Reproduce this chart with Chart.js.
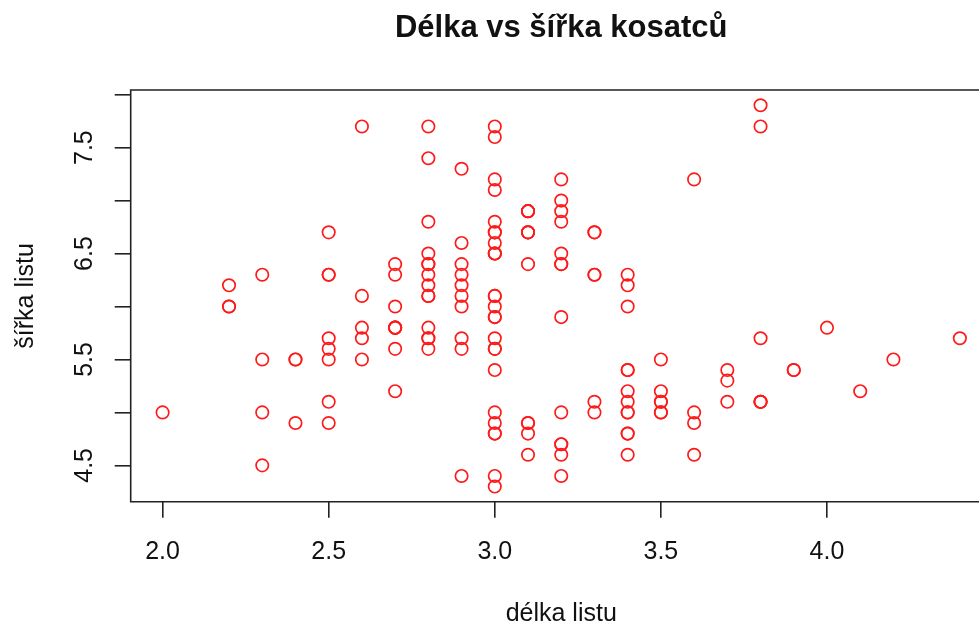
<!DOCTYPE html>
<html>
<head>
<meta charset="utf-8">
<script src="https://cdn.jsdelivr.net/npm/chart.js@4/dist/chart.umd.min.js"></script>
<style>
  html, body { margin: 0; padding: 0; background: #ffffff; }
  #wrap { width: 979px; height: 626px; }
</style>
</head>
<body>
<div id="wrap"><canvas id="c" width="979" height="626"></canvas></div>
<script>
// Iris measurements: sepal width (x) and sepal length (y)
const sepalWidth = [
  3.5,3.0,3.2,3.1,3.6,3.9,3.4,3.4,2.9,3.1,3.7,3.4,3.0,3.0,4.0,4.4,3.9,3.5,3.8,3.8,
  3.4,3.7,3.6,3.3,3.4,3.0,3.4,3.5,3.4,3.2,3.1,3.4,4.1,4.2,3.1,3.2,3.5,3.6,3.0,3.4,
  3.5,2.3,3.2,3.5,3.8,3.0,3.8,3.2,3.7,3.3,
  3.2,3.2,3.1,2.3,2.8,2.8,3.3,2.4,2.9,2.7,2.0,3.0,2.2,2.9,2.9,3.1,3.0,2.7,2.2,2.5,
  3.2,2.8,2.5,2.8,2.9,3.0,2.8,3.0,2.9,2.6,2.4,2.4,2.7,2.7,3.0,3.4,3.1,2.3,3.0,2.5,
  2.6,3.0,2.6,2.3,2.7,3.0,2.9,2.9,2.5,2.8,
  3.3,2.7,3.0,2.9,3.0,3.0,2.5,2.9,2.5,3.6,3.2,2.7,3.0,2.5,2.8,3.2,3.0,3.8,2.6,2.2,
  3.2,2.8,2.8,2.7,3.3,3.2,2.8,3.0,2.8,3.0,2.8,3.8,2.8,2.8,2.6,3.0,3.4,3.1,3.0,3.1,
  3.1,3.1,2.7,3.2,3.3,3.0,2.5,3.0,3.4,3.0
];
const sepalLength = [
  5.1,4.9,4.7,4.6,5.0,5.4,4.6,5.0,4.4,4.9,5.4,4.8,4.8,4.3,5.8,5.7,5.4,5.1,5.7,5.1,
  5.4,5.1,4.6,5.1,4.8,5.0,5.0,5.2,5.2,4.7,4.8,5.4,5.2,5.5,4.9,5.0,5.5,4.9,4.4,5.1,
  5.0,4.5,4.4,5.0,5.1,4.8,5.1,4.6,5.3,5.0,
  7.0,6.4,6.9,5.5,6.5,5.7,6.3,4.9,6.6,5.2,5.0,5.9,6.0,6.1,5.6,6.7,5.6,5.8,6.2,5.6,
  5.9,6.1,6.3,6.1,6.4,6.6,6.8,6.7,6.0,5.7,5.5,5.5,5.8,6.0,5.4,6.0,6.7,6.3,5.6,5.5,
  5.5,6.1,5.8,5.0,5.6,5.7,5.7,6.2,5.1,5.7,
  6.3,5.8,7.1,6.3,6.5,7.6,4.9,7.3,6.7,7.2,6.5,6.4,6.8,5.7,5.8,6.4,6.5,7.7,7.7,6.0,
  6.9,5.6,7.7,6.3,6.7,7.2,6.2,6.1,6.4,7.2,7.4,7.9,6.4,6.3,6.1,7.7,6.3,6.4,6.0,6.9,
  6.7,6.9,5.8,6.8,6.7,6.7,6.3,6.5,6.2,5.9
];

// Axis tick labels
const xTickValues = [2.0, 2.5, 3.0, 3.5, 4.0];
const xTickLabels = ['2.0', '2.5', '3.0', '3.5', '4.0'];
const yTickValues = [4.5, 5.5, 6.5, 7.5];
const yTickLabels = ['4.5', '5.5', '6.5', '7.5'];

const chartTitle = 'Délka vs šířka kosatců';
const xTitle = 'délka listu';
const yTitle = 'šířka listu';

const points = sepalWidth.map((w, i) => ({ x: w, y: sepalLength[i] }));

const FONT = '"Liberation Sans", Arial, Helvetica, sans-serif';
const INK = '#111111';

// Frame (left, top, bottom) plus all text, placed through the scales
const framePlugin = {
  id: 'frameAndText',
  afterDraw(chart) {
    const { ctx, chartArea: a, scales: { x, y } } = chart;
    ctx.save();
    ctx.strokeStyle = '#222222';
    ctx.lineWidth = 1.6;
    ctx.beginPath();
    ctx.moveTo(a.right + 2, a.top);
    ctx.lineTo(a.left, a.top);
    ctx.lineTo(a.left, a.bottom);
    ctx.lineTo(a.right + 2, a.bottom);
    ctx.stroke();

    ctx.fillStyle = INK;
    ctx.font = '25px ' + FONT;
    ctx.textAlign = 'center';
    ctx.textBaseline = 'alphabetic';
    xTickValues.forEach((v, i) => {
      ctx.fillText(xTickLabels[i], x.getPixelForValue(v), 559);
    });
    yTickValues.forEach((v, i) => {
      ctx.save();
      ctx.translate(92, y.getPixelForValue(v));
      ctx.rotate(-Math.PI / 2);
      ctx.fillText(yTickLabels[i], 0, 0);
      ctx.restore();
    });

    const cx = x.getPixelForValue(3.2);
    ctx.fillText(xTitle, cx, 621);
    ctx.save();
    ctx.translate(33, (a.top + a.bottom) / 2);
    ctx.rotate(-Math.PI / 2);
    ctx.fillText(yTitle, 0, 0);
    ctx.restore();

    ctx.font = 'bold 31px ' + FONT;
    ctx.fillText(chartTitle, cx, 37);
    ctx.restore();
  }
};

new Chart(document.getElementById('c'), {
  type: 'scatter',
  data: {
    datasets: [{
      data: points,
      showLine: false,
      pointStyle: 'circle',
      pointRadius: 6.2,
      pointHoverRadius: 6.2,
      borderWidth: 1.7,
      borderColor: '#ff1a1a',
      backgroundColor: 'rgba(0,0,0,0)'
    }]
  },
  options: {
    responsive: false,
    animation: false,
    devicePixelRatio: 1,
    layout: { autoPadding: false, padding: { top: 90, right: 0, left: 0, bottom: 0 } },
    plugins: {
      legend: { display: false },
      tooltip: { enabled: false },
      title: { display: false }
    },
    scales: {
      x: {
        type: 'linear',
        min: 1.904,
        max: 4.4576,
        afterFit(s) { s.height = 124.2; },
        border: { display: false },
        grid: { display: true, drawOnChartArea: false, drawTicks: true, tickLength: 16, color: '#222222', lineWidth: 1.6 },
        ticks: { stepSize: 0.5, includeBounds: false, display: false }
      },
      y: {
        type: 'linear',
        min: 4.156,
        max: 8.044,
        afterFit(s) { s.width = 130.7; },
        border: { display: false },
        grid: { display: true, drawOnChartArea: false, drawTicks: true, tickLength: 16, color: '#222222', lineWidth: 1.6 },
        ticks: { stepSize: 0.5, includeBounds: false, display: false }
      }
    }
  },
  plugins: [framePlugin]
});
</script>
</body>
</html>
